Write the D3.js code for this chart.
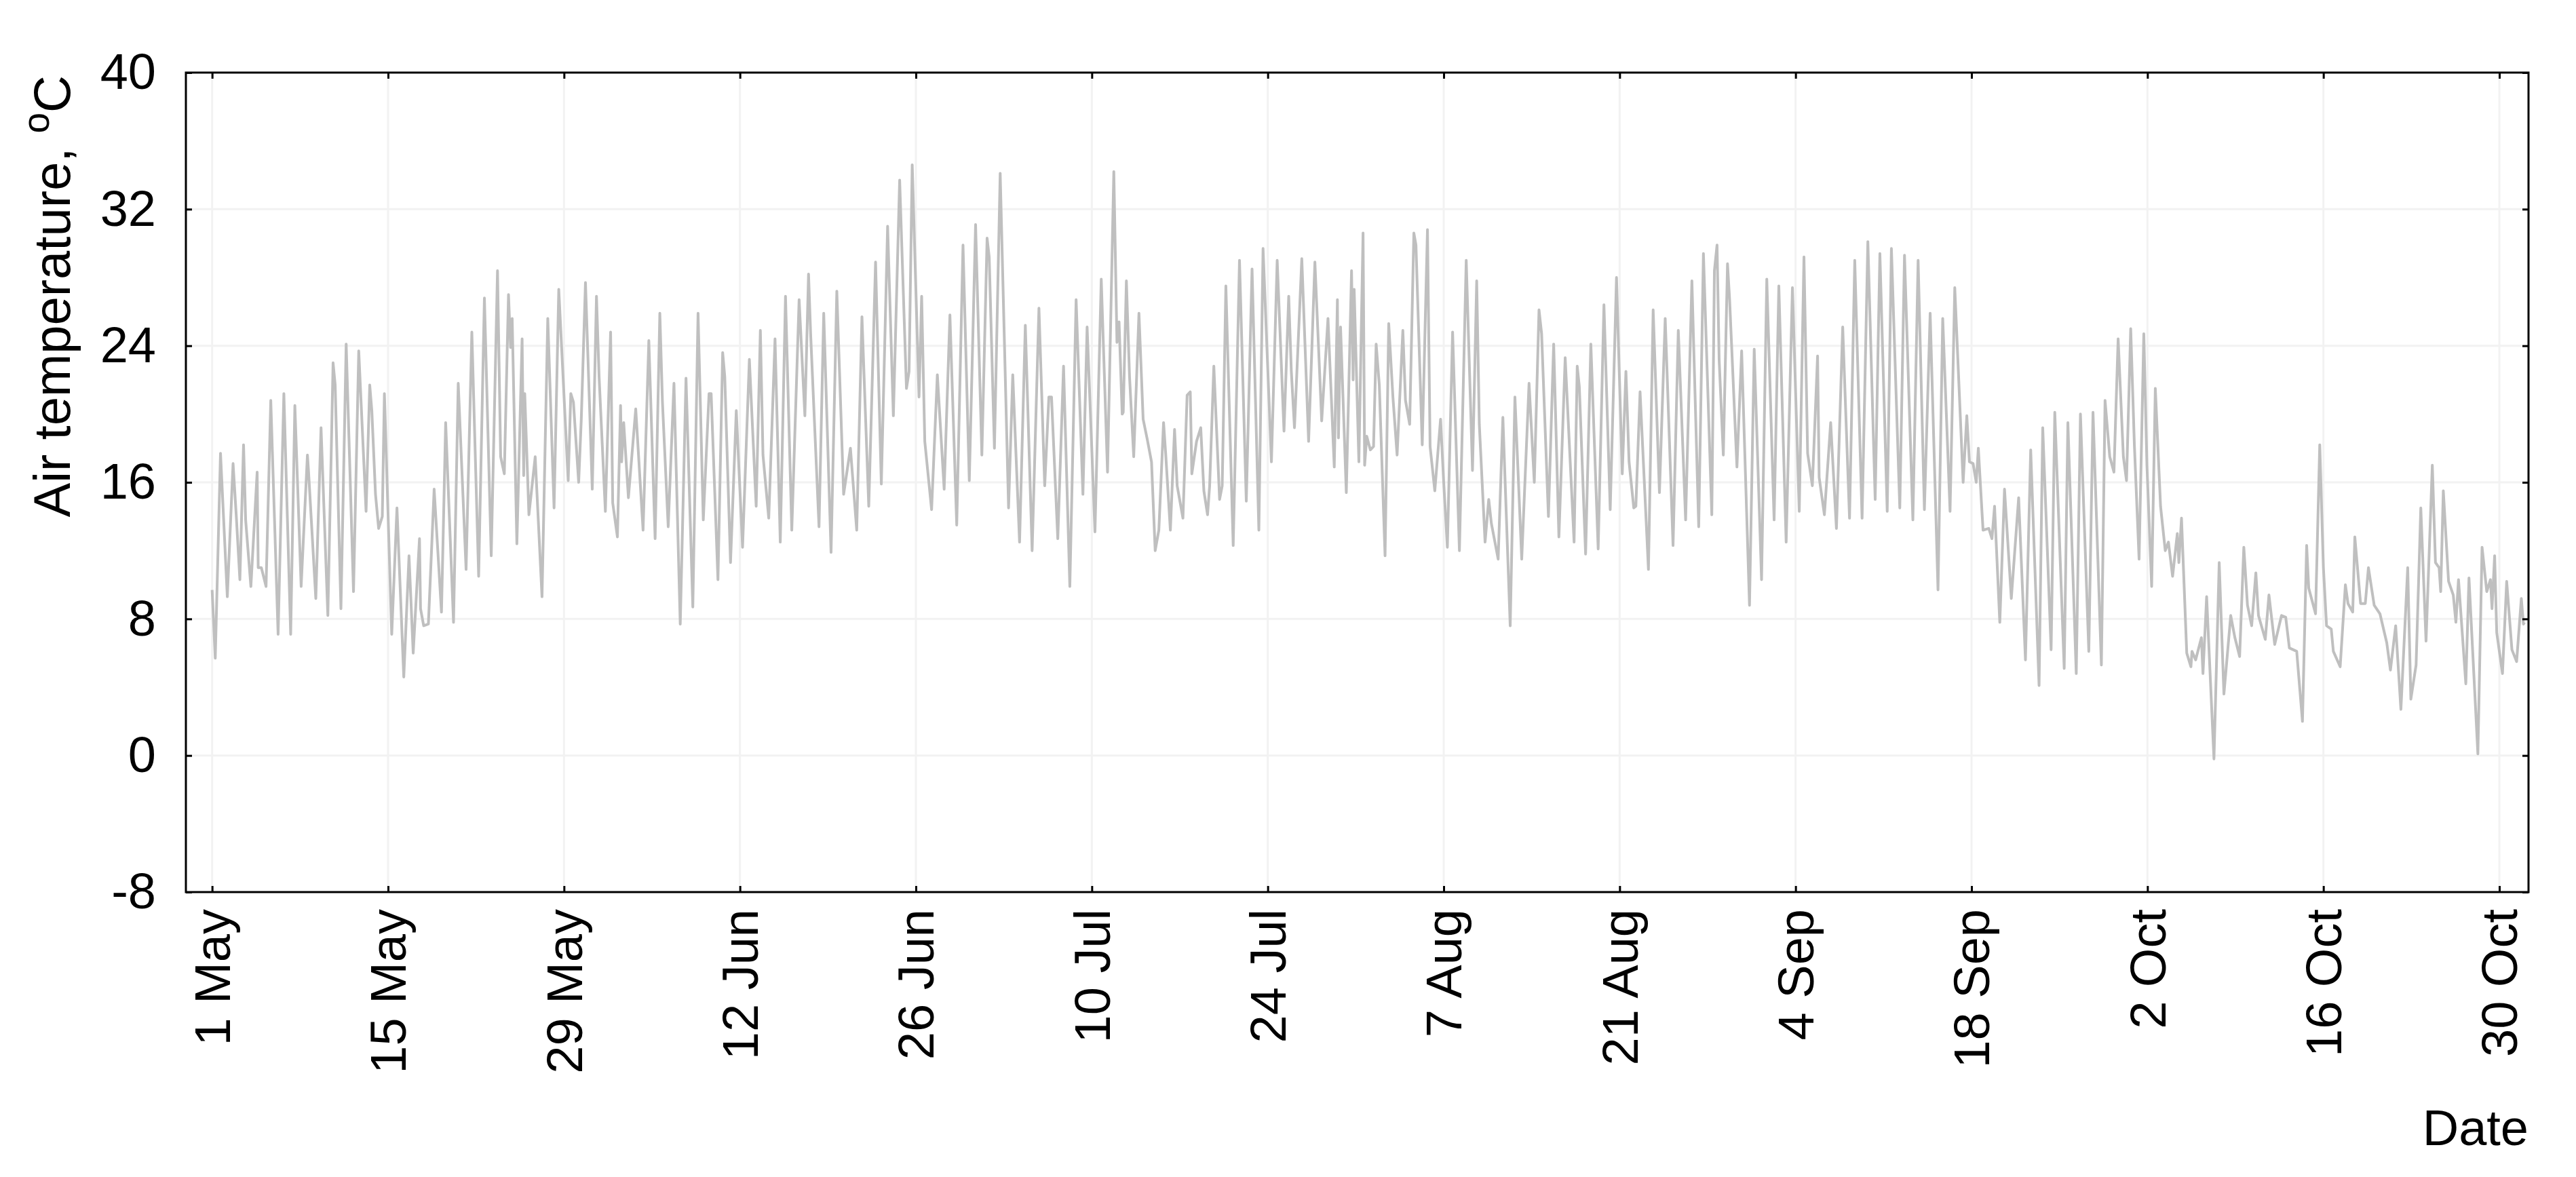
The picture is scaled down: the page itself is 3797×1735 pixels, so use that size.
<!DOCTYPE html>
<html>
<head>
<meta charset="utf-8">
<script src="https://cdn.jsdelivr.net/npm/d3@7"></script>
<style>
  body { margin: 0; background: #ffffff; }
  svg text { font-family: "Liberation Sans", Arial, sans-serif; fill: #000; }
</style>
</head>
<body>
<script>
var w = 3797, h = 1735;
var plotLeft = 274, plotRight = 3727, plotTop = 107, plotBottom = 1315;

// x ticks: every 14 days from 1 May (day offsets)
var tickDay = [0, 14, 28, 42, 56, 70, 84, 98, 112, 126, 140, 154, 168, 182];
var tickLabel = ["1 May", "15 May", "29 May", "12 Jun", "26 Jun", "10 Jul", "24 Jul",
                 "7 Aug", "21 Aug", "4 Sep", "18 Sep", "2 Oct", "16 Oct", "30 Oct"];

// y ticks
var tempTicks = [-8, 0, 8, 16, 24, 32, 40];
var tempLabels = ["-8", "0", "8", "16", "24", "32", "40"];

// air temperature turning points, hours since 1 May 00:00
var obsHour = [
  0, 6, 16, 29, 40, 46, 53, 60, 64, 74, 86, 88, 94, 103, 112, 126, 137, 150, 158, 170,
  182, 184, 198, 208, 221, 231, 235, 246, 256, 270, 280, 294, 301, 305, 312, 318, 325, 329, 343, 353,
  366, 376, 384, 396, 398, 404, 413, 424, 438, 446, 461, 470, 485, 496, 509, 520, 533, 545,
  551, 558, 566, 570, 573, 582, 592, 595, 597, 605, 617, 630, 641, 653, 662, 680, 685, 690, 700, 705,
  713, 726, 734, 739, 751, 761, 765, 774, 780, 782, 786, 795, 809, 823, 834, 846, 855, 860, 871, 882,
  894, 905, 918, 928, 938, 949, 953, 966, 975, 979, 990, 1001, 1013, 1026, 1039, 1047, 1052, 1063, 1075, 1085,
  1095, 1107, 1121,
  1132, 1139, 1143, 1159, 1168, 1182, 1193, 1206, 1219, 1231, 1241, 1254, 1267, 1278, 1290, 1301, 1313, 1326, 1331, 1337,
  1350, 1355, 1361, 1374, 1385, 1398, 1409, 1422, 1434, 1446, 1458, 1470, 1480, 1484, 1494, 1505, 1521, 1529, 1542, 1553,
  1566, 1579, 1590, 1598, 1603, 1615, 1626, 1638, 1650, 1663, 1671, 1686,
  1698, 1710, 1722, 1728, 1732, 1738, 1740, 1746, 1752, 1760, 1770, 1778, 1786, 1794, 1801, 1808, 1817, 1821, 1830, 1838,
  1843, 1854, 1862, 1868, 1871, 1880, 1888, 1894, 1901, 1905, 1913, 1924, 1929, 1936, 1950, 1962, 1975, 1986, 1999, 2007,
  2023, 2034, 2047, 2056, 2061, 2067, 2081, 2094, 2106, 2119, 2131, 2143, 2149, 2151, 2155, 2166, 2176, 2179, 2181, 2190,
  2198, 2201, 2205, 2212, 2218, 2223, 2229, 2240, 2247, 2255,
  2263, 2274, 2279, 2287, 2295, 2299, 2311, 2321, 2326, 2335, 2346, 2352, 2359, 2369, 2382, 2395, 2407, 2415, 2420, 2431,
  2438, 2443, 2456, 2465, 2479, 2488, 2501, 2515, 2525, 2534, 2539, 2552, 2562, 2572, 2584, 2601, 2607, 2611, 2623, 2633,
  2647, 2658, 2670, 2682, 2693, 2700, 2706, 2715, 2719, 2727, 2743, 2752, 2764, 2775, 2790, 2800, 2814, 2826,
  2839, 2848, 2864, 2869, 2874, 2878, 2886, 2894, 2898, 2912, 2921, 2936, 2945, 2959, 2969, 2983, 2992, 3006, 3018, 3031,
  3040, 3047, 3056, 3066, 3069, 3079, 3091, 3102, 3114, 3127, 3137, 3151, 3162, 3176, 3185, 3199, 3207, 3223, 3232, 3248,
  3258, 3270, 3281, 3296, 3305, 3319, 3328, 3344, 3351, 3356, 3363, 3369, 3373, 3382, 3393, 3399, 3404,
  3414, 3423, 3436, 3450, 3463, 3473, 3489, 3496, 3512, 3519, 3537, 3544, 3560, 3568, 3584, 3592, 3608, 3615, 3624, 3632,
  3640, 3650, 3656, 3664, 3671, 3680, 3689, 3695, 3704, 3711, 3721, 3730, 3736, 3744, 3753, 3756, 3761, 3771, 3779, 3781,
  3788, 3799, 3802, 3809, 3823, 3833, 3842, 3846, 3855, 3863, 3872, 3880, 3887, 3895, 3903, 3908, 3921, 3928, 3939, 3952,
  3960,
  3967, 3981, 3992, 4000, 4004, 4017, 4025, 4032, 4038, 4047, 4051, 4064, 4074, 4079, 4088, 4092, 4103, 4112, 4118, 4129,
  4140, 4153, 4160, 4170, 4180, 4193, 4199, 4209, 4218, 4228, 4240, 4246, 4253, 4256, 4261, 4271, 4280, 4285, 4290, 4304,
  4310, 4327, 4335, 4344, 4351, 4354, 4359, 4363, 4374, 4382, 4392, 4401, 4410, 4414, 4416
];

var obsTemp = [
  9.7, 5.7, 17.7, 9.3, 17.1, 14.1, 10.3, 18.2, 13.8, 9.9, 16.6, 11.0, 11.0, 9.9, 20.8, 7.1, 21.2, 7.1, 20.5, 9.9,
  17.6, 16.7, 9.2, 19.2, 8.2, 23.0, 21.7, 8.6, 24.1, 9.6, 23.7, 14.3, 21.7, 20.2, 15.3, 13.3, 14.0, 21.2, 7.1, 14.5,
  4.6, 11.7, 6.0, 12.7, 8.6, 7.6, 7.7, 15.6, 8.4, 19.5, 7.8, 21.8, 10.9, 24.8, 10.5, 26.8, 11.7, 28.4,
  17.5, 16.5, 27.0, 23.9, 25.6, 12.4, 24.4, 16.4, 21.2, 14.1, 17.5, 9.3, 25.6, 14.5, 27.3, 16.1, 21.2, 20.7, 16.0, 19.7,
  27.7, 15.6, 26.9, 22.2, 14.3, 24.8, 14.8, 12.8, 20.5, 17.2, 19.5, 15.1, 20.3, 13.2, 24.3, 12.7, 25.9, 20.7, 13.4, 21.8,
  7.7, 22.1, 8.7, 25.9, 13.8, 21.2, 21.2, 10.3, 23.6, 22.2, 11.3, 20.2, 12.2, 23.2, 14.6, 24.9, 17.6, 13.9, 24.4, 12.5,
  26.9, 13.2, 26.7,
  19.9, 28.2, 24.7, 13.4, 25.9, 11.9, 27.2, 15.3, 18.0, 13.2, 25.7, 14.6, 28.9, 15.9, 31.0, 19.9, 33.7, 21.5, 22.5, 34.6,
  21.0, 26.9, 18.4, 14.4, 22.3, 15.6, 25.8, 13.5, 29.9, 16.1, 31.1, 17.6, 30.3, 29.2, 18.0, 34.1, 14.5, 22.3, 12.5, 25.2,
  12.0, 26.2, 15.8, 21.0, 21.0, 12.7, 22.8, 9.9, 26.7, 15.3, 25.1, 13.1,
  27.9, 16.6, 34.2, 24.2, 25.4, 20.0, 20.1, 27.8, 22.2, 17.5, 25.9, 19.7, 18.5, 17.2, 12.0, 13.2, 19.5, 17.7, 13.2, 19.1,
  15.8, 13.9, 21.1, 21.3, 16.5, 18.4, 19.2, 15.5, 14.1, 15.8, 22.8, 15.0, 15.8, 27.5, 12.3, 29.0, 14.9, 28.5, 13.2, 29.7,
  17.2, 29.0, 19.0, 26.9, 22.5, 19.2, 29.1, 18.4, 28.9, 19.6, 25.6, 16.9, 26.7, 18.6, 25.1, 15.4, 28.4, 22.0, 27.3, 17.2,
  30.6, 17.0, 18.7, 17.9, 18.1, 24.1, 21.7, 11.7, 25.3, 21.0,
  17.6, 24.9, 20.8, 19.4, 30.6, 29.9, 18.2, 30.8, 18.1, 15.5, 19.7, 16.0, 12.2, 24.8, 12.0, 29.0, 16.7, 27.8, 19.4, 12.5,
  15.0, 13.6, 11.5, 19.8, 7.6, 21.0, 11.5, 21.8, 16.0, 26.1, 24.7, 14.0, 24.1, 12.8, 23.3, 12.5, 22.8, 21.6, 11.8, 24.1,
  12.1, 26.4, 14.4, 28.0, 16.5, 22.5, 17.2, 14.5, 14.6, 21.3, 10.9, 26.1, 15.4, 25.6, 12.3, 24.9, 13.8, 27.8,
  13.4, 29.4, 14.1, 28.4, 29.9, 23.2, 17.6, 28.8, 26.7, 16.9, 23.7, 8.8, 23.8, 10.3, 27.9, 13.8, 27.5, 12.5, 27.4, 14.3,
  29.2, 17.7, 15.8, 23.4, 16.3, 14.1, 19.5, 13.3, 25.1, 13.9, 29.0, 13.9, 30.1, 15.0, 29.4, 14.3, 29.7, 14.5, 29.3, 13.8,
  29.0, 14.4, 25.9, 9.7, 25.6, 14.3, 27.4, 16.0, 19.9, 17.2, 17.1, 16.0, 18.0, 13.2, 13.3, 12.7, 14.6,
  7.8, 15.6, 9.2, 15.1, 5.6, 17.9, 4.1, 19.2, 6.2, 20.1, 5.1, 19.5, 4.8, 20.0, 6.1, 20.1, 5.3, 20.8, 17.5, 16.6,
  24.4, 17.5, 16.1, 25.0, 18.2, 11.5, 24.7, 17.0, 9.9, 21.5, 14.6, 12.0, 12.5, 10.5, 13.0, 11.3, 13.9, 6.0, 5.2, 6.1,
  5.6, 6.9, 4.8, 9.3, -0.2, 11.3, 3.6, 5.0, 8.2, 6.9, 5.8, 12.2, 8.8, 7.6, 10.7, 8.2, 6.8, 9.4, 6.5, 8.2,
  8.1,
  6.3, 6.1, 2.0, 12.3, 9.8, 8.3, 18.2, 11.0, 7.6, 7.4, 6.1, 5.2, 10.0, 8.9, 8.4, 12.8, 8.9, 8.9, 11.0, 8.8,
  8.3, 6.6, 5.0, 7.6, 2.7, 11.0, 3.3, 5.3, 14.5, 6.7, 17.0, 11.3, 11.0, 9.6, 15.5, 10.2, 9.4, 7.8, 10.3, 4.2,
  10.4, 0.1, 12.2, 9.6, 10.3, 8.6, 11.7, 7.2, 4.8, 10.2, 6.2, 5.5, 9.2, 7.7, 7.8
];

var dataset = obsHour.map(function(d, i) { return { hour: d, temp: obsTemp[i] }; });
var tickHour = tickDay.map(function(d) { return d * 24; });

var svg = d3.select("body").append("svg").attr("width", w).attr("height", h);

xScale = d3.scaleLinear()
         .domain([-50.1, 4423.7])
         .range([plotLeft, plotRight]);

yScale = d3.scaleLinear()
         .domain([-8, 40])
         .range([plotBottom, plotTop]);

//Gridlines
svg.append("g").selectAll("line")
   .data(tempTicks.slice(1, -1))
   .enter()
   .append("line")
   .attr("x1", plotLeft).attr("x2", plotRight)
   .attr("y1", function(d) { return yScale(d); })
   .attr("y2", function(d) { return yScale(d); })
   .attr("stroke", "#f2f2f2").attr("stroke-width", 3);

svg.append("g").selectAll("line")
   .data(tickHour)
   .enter()
   .append("line")
   .attr("y1", plotTop).attr("y2", plotBottom)
   .attr("x1", function(d) { return xScale(d); })
   .attr("x2", function(d) { return xScale(d); })
   .attr("stroke", "#f2f2f2").attr("stroke-width", 3);

//Temperature line
var line = d3.line()
   .x(function(d) { return xScale(d.hour); })
   .y(function(d) { return yScale(d.temp); });

svg.append("path")
   .datum(dataset)
   .attr("d", line)
   .attr("fill", "none")
   .attr("stroke", "#bfbfbf")
   .attr("stroke-width", 4)
   .attr("stroke-linejoin", "round");

//Define axes
var xAxis = d3.axisBottom(xScale)
   .tickValues(tickHour)
   .tickFormat(function(d, i) { return tickLabel[i]; })
   .tickSize(-9)
   .tickSizeOuter(0);

var yAxis = d3.axisLeft(yScale)
   .tickValues(tempTicks)
   .tickFormat(function(d, i) { return tempLabels[i]; })
   .tickSize(-9)
   .tickSizeOuter(0)
   .tickPadding(44);

//Create X axis
var gx = svg.append("g")
   .attr("transform", "translate(0," + plotBottom + ")")
   .call(xAxis);
gx.selectAll("text")
   .attr("transform", "rotate(-90)")
   .attr("x", -25)
   .attr("y", 0)
   .attr("dy", "0.35em")
   .style("text-anchor", "end");

//Create Y axis
var gy = svg.append("g")
   .attr("transform", "translate(" + plotLeft + ",0)")
   .call(yAxis);

//Ticks on top and right edges
svg.append("g")
   .attr("transform", "translate(0," + plotTop + ")")
   .call(d3.axisTop(xScale).tickValues(tickHour).tickFormat("").tickSize(-9).tickSizeOuter(0));
svg.append("g")
   .attr("transform", "translate(" + plotRight + ",0)")
   .call(d3.axisRight(yScale).tickValues(tempTicks).tickFormat("").tickSize(-9).tickSizeOuter(0));

svg.selectAll(".domain").remove();
svg.selectAll(".tick line").attr("stroke", "#000").attr("stroke-width", 3);
svg.selectAll(".tick text")
   .attr("fill", "#000")
   .style("font-family", "'Liberation Sans', Arial, sans-serif")
   .style("font-size", "74px");

//Frame
svg.append("rect")
   .attr("x", plotLeft).attr("y", plotTop)
   .attr("width", plotRight - plotLeft)
   .attr("height", plotBottom - plotTop)
   .attr("fill", "none")
   .attr("stroke", "#000")
   .attr("stroke-width", 3);

//Axis titles
var yTitle = svg.append("text")
   .attr("transform", "translate(103," + (plotTop + 4) + ") rotate(-90)")
   .style("text-anchor", "end")
   .style("font-size", "76px");
yTitle.append("tspan").text("Air temperature, ");
yTitle.append("tspan").attr("dy", -31).style("font-size", "55px").text("o");
yTitle.append("tspan").attr("dy", 31).text("C");

svg.append("text")
   .attr("x", plotRight)
   .attr("y", 1688)
   .style("text-anchor", "end")
   .style("font-size", "74px")
   .text("Date");
</script>
</body>
</html>
